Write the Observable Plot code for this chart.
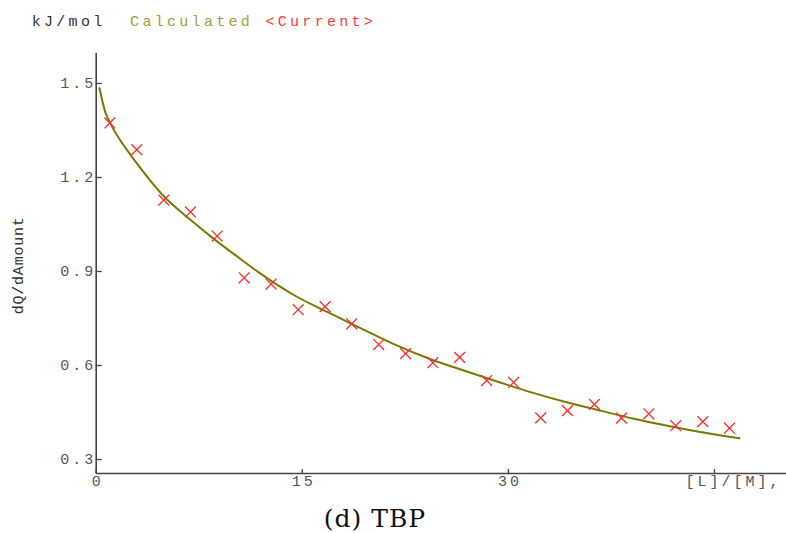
<!DOCTYPE html>
<html><head><meta charset="utf-8">
<script src="https://cdn.jsdelivr.net/npm/d3@7"></script>
<script src="https://cdn.jsdelivr.net/npm/@observablehq/plot@0.6"></script>
<style>
body{margin:0;background:#fff;width:786px;height:533px;position:relative;overflow:hidden}
#hdr{position:absolute;left:31.7px;top:13px;font-family:"Liberation Mono",monospace;font-size:15px;letter-spacing:3.3px;white-space:pre;line-height:20px;color:#333}
#chart{position:absolute;left:0;top:40px}
#cap{position:absolute;left:0;width:750px;top:505px;text-align:center;font-family:"DejaVu Serif",serif;font-size:25px;line-height:28px;letter-spacing:1px;color:#111}
</style></head>
<body>
<div id="hdr"><span>kJ/mol</span>  <span style="color:#a0a03a">Calculated</span> <span style="color:#ff3a3a">&lt;Current&gt;</span></div>
<div id="chart"></div>
<div id="cap">(d) TBP</div>
<script>
// Measured points ("Current")
const ratioX = [0.99, 2.95, 4.92, 6.86, 8.80, 10.77, 12.73, 14.70, 16.66, 18.59, 20.56, 22.52,
  24.50, 26.45, 28.42, 30.38, 32.35, 34.30, 36.26, 38.23, 40.22, 42.18, 44.15, 46.09];
const heatY = [1.374, 1.289, 1.128, 1.090, 1.013, 0.880, 0.860, 0.778, 0.788, 0.733, 0.667, 0.638,
  0.609, 0.626, 0.552, 0.546, 0.433, 0.456, 0.476, 0.432, 0.446, 0.408, 0.421, 0.400];
// Calculated curve
const fitX = [0.24, 0.68, 1.04, 2.50, 3.22, 4.92, 6.86, 8.56, 10.50, 11.96, 14.38, 16.81, 19.24,
  21.66, 24.33, 26.75, 29.18, 31.61, 34.03, 36.70, 39.13, 41.56, 43.98, 46.82];
const fitY = [1.485, 1.406, 1.372, 1.272, 1.230, 1.140, 1.065, 1.004, 0.940, 0.893, 0.825, 0.771, 0.719,
  0.668, 0.620, 0.584, 0.549, 0.515, 0.485, 0.456, 0.430, 0.408, 0.388, 0.368];
const yTicks = [0.3, 0.6, 0.9, 1.2, 1.5];
const xTicks = [0, 15, 30, 45];
const xTickLabels = ["0", "15", "30", ""];
const xAxisLabel = "[L]/[M],";
const yAxisLabel = "dQ/dAmount";

const points = ratioX.map((x, i) => ({x, y: heatY[i]}));
const curve = fitX.map((x, i) => ({x, y: fitY[i]}));
const yMin = 0.2554, yMax = 1.5966;
const axisColor = "#444", labelColor = "#555";

const chart = Plot.plot({
  width: 786, height: 460,
  marginLeft: 95.7, marginRight: 0, marginTop: 12.7, marginBottom: 27,
  style: {fontFamily: "'Liberation Mono', monospace", fontSize: "15px", letterSpacing: "3px", background: "#fff"},
  x: {domain: [0, 50.24], label: null},
  y: {domain: [yMin, yMax], label: null},
  marks: [
    Plot.ruleX([0], {stroke: axisColor, strokeWidth: 1.6}),
    Plot.ruleY([yMin], {stroke: axisColor, strokeWidth: 1.6}),
    Plot.axisY({ticks: yTicks, tickSize: -6, text: null, label: null, stroke: axisColor, strokeWidth: 1.3}),
    Plot.axisY({ticks: yTicks, tickSize: 0, tickPadding: 0, label: null, tickFormat: d3.format(".1f"), fill: labelColor}),
    Plot.axisX({ticks: xTicks, tickSize: -4, text: null, label: null, stroke: axisColor, strokeWidth: 1.3}),
    Plot.axisX({ticks: xTicks, tickSize: 0, tickPadding: 2, dx: 1.5, label: null, tickFormat: d => xTickLabels[xTicks.indexOf(d)], fill: labelColor}),
    Plot.text([xAxisLabel], {frameAnchor: "bottom-right", textAnchor: "end", lineAnchor: "top", dx: -5, dy: 2, fill: labelColor}),
    Plot.text([yAxisLabel], {frameAnchor: "left", textAnchor: "middle", rotate: -90, dx: -78, dy: 2, fill: "#333", fontSize: 15}),
    Plot.line(curve, {x: "x", y: "y", stroke: "#7a7a00", strokeWidth: 2, curve: "monotone-x"}),
    Plot.dot(points, {x: "x", y: "y", symbol: "times", r: 5, stroke: "#ff2a2a", strokeWidth: 1.3})
  ]
});
chart.querySelectorAll("text").forEach(t => {
  if (t.textContent === yAxisLabel) t.setAttribute("style", "letter-spacing:0.8px");
});
document.getElementById("chart").append(chart);
</script>
</body></html>
